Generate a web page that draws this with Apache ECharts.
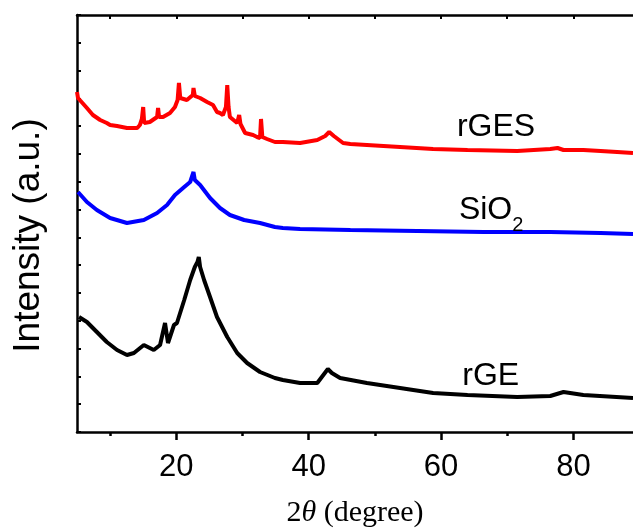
<!DOCTYPE html>
<html>
<head>
<meta charset="utf-8">
<script src="https://cdn.jsdelivr.net/npm/echarts@6/dist/echarts.min.js"></script>
<style>
  html, body { margin: 0; padding: 0; background: #fff; }
  #chart { width: 633px; height: 529px; }
</style>
</head>
<body>
<div id="chart"></div>
<script>
// XRD patterns (x = 2theta, y = offset intensity)
const rgesX = [5.0, 5.15, 5.45, 6.5, 7.4, 8.5, 9.5, 10.0, 11.05, 12.55, 14.1, 14.5, 14.8, 15.0, 15.15, 16.0, 17.1, 17.25, 17.4, 18.0, 19.05, 19.8, 20.2, 20.4, 20.6, 20.9, 21.6, 22.5, 22.6, 22.8, 23.1, 23.6, 24.65, 25.55, 26.15, 26.6, 27.05, 27.5, 27.7, 27.9, 28.1, 29.2, 29.5, 29.7, 30.4, 31.6, 32.2, 32.65, 32.8, 33.0, 33.7, 34.9, 36.1, 38.7, 41.3, 42.5, 43.1, 43.8, 45.2, 46.3, 48.8, 53.8, 58.8, 64.0, 71.5, 76.5, 77.6, 78.5, 81.5, 84.1, 86.6, 89.0]
const rgesY = [340, 334, 332, 324, 317, 312, 309, 307, 306, 304, 304, 307, 313, 325, 309, 310, 315, 324, 315, 315, 319, 325, 332, 349, 334, 332, 332, 337, 344, 336, 335, 334, 330, 327, 320, 319, 317, 325, 347, 325, 315, 309, 317, 308, 299, 297, 295, 294, 313, 295, 293, 290, 290, 289, 292, 296, 300, 296, 289, 288, 287, 285, 283, 282, 281, 283, 284, 282, 282, 281, 280, 279]

const sio2X = [5.15, 6.5, 8.0, 10.0, 12.55, 15.1, 17.1, 18.6, 19.8, 21.2, 22.1, 22.4, 22.6, 22.8, 23.6, 25.1, 26.6, 28.1, 30.25, 32.65, 34.9, 36.1, 38.7, 46.3, 56.4, 66.4, 76.5, 84.1, 89.0]
const sio2Y = [240, 230, 222, 214, 209, 212, 219, 227, 237, 245, 250, 252, 260, 252, 247, 234, 224, 217, 212, 209, 205, 204, 203, 202, 201, 200, 200, 199, 198]

const rgeX = [5.3, 6.5, 8.0, 9.5, 11.05, 12.55, 13.6, 15.1, 16.6, 17.55, 18.3, 18.75, 19.65, 20.1, 21.2, 22.1, 22.8, 23.2, 23.4, 23.6, 24.2, 25.1, 26.15, 27.7, 29.2, 30.7, 32.65, 34.9, 36.1, 38.7, 41.3, 42.9, 43.5, 44.75, 48.8, 53.8, 58.8, 64.0, 71.5, 76.5, 78.5, 81.5, 89.0]
const rgeY = [115, 110, 100, 90, 82, 77, 79, 87, 82, 87, 109, 89, 107, 109, 132, 152, 165, 170, 175, 165, 152, 135, 115, 95, 79, 69, 60, 54, 52, 49, 49, 63, 59, 54, 49, 44, 39, 37, 35, 36, 40, 37, 34]

const majorTicks = [20, 40, 60, 80]
const minorTicks = [10, 30, 50, 70]
const topTicks = [10, 20, 30, 40, 50, 60, 70, 80]

const zip = (xs, ys) => xs.map((x, i) => [x, ys[i]])

const chart = echarts.init(document.getElementById('chart'))

const sans = 'Liberation Sans, Arial, sans-serif'
const serif = 'Liberation Serif, Times New Roman, serif'

function tag (text, x, y, rich) {
  return {
    symbolSize: 0,
    silent: true,
    animation: false,
    data: [{ coord: [x, y] }],
    label: {
      show: true,
      position: 'right',
      distance: 0,
      formatter: text,
      color: '#000',
      fontFamily: sans,
      fontSize: 32,
      rich: rich
    }
  }
}

const option = {
  animation: false,
  grid: { left: 77, right: 0, top: 15, bottom: 97, outerBoundsMode: 'none', containLabel: false },
  xAxis: [
    {
      type: 'value',
      min: 5,
      max: 89,
      position: 'bottom',
      axisLine: { onZero: false, lineStyle: { color: '#000', width: 2.5 } },
      axisTick: { customValues: majorTicks, length: 8, lineStyle: { color: '#000', width: 2.5 } },
      axisLabel: { customValues: majorTicks, color: '#000', fontFamily: sans, fontSize: 31, margin: 20 },
      splitLine: { show: false },
      name: '2{i|θ} (degree)',
      nameLocation: 'middle',
      nameGap: 66,
      nameTextStyle: {
        color: '#000',
        fontFamily: serif,
        fontSize: 30,
        rich: { i: { fontStyle: 'italic', fontFamily: serif, fontSize: 30, color: '#000' } }
      }
    },
    {
      type: 'value',
      min: 5,
      max: 89,
      position: 'bottom',
      axisLine: { show: false, onZero: false },
      axisTick: { customValues: minorTicks, length: 4, lineStyle: { color: '#000', width: 2.5 } },
      axisLabel: { show: false },
      splitLine: { show: false }
    },
    {
      type: 'value',
      min: 5,
      max: 89,
      position: 'top',
      axisLine: { onZero: false, lineStyle: { color: '#000', width: 2.5 } },
      axisTick: { customValues: topTicks, inside: true, length: 4, lineStyle: { color: '#000', width: 2 } },
      axisLabel: { show: false },
      splitLine: { show: false }
    }
  ],
  yAxis: {
    type: 'value',
    min: 0,
    max: 417,
    interval: 27.8,
    axisLine: { show: true, onZero: false, lineStyle: { color: '#000', width: 2.5 } },
    axisTick: { show: true, inside: true, length: 4, lineStyle: { color: '#000', width: 2 } },
    axisLabel: { show: false },
    splitLine: { show: false },
    name: 'Intensity (a.u.)',
    nameLocation: 'middle',
    nameGap: 30,
    nameTextStyle: { color: '#000', fontFamily: sans, fontSize: 37, padding: [0, 24, 0, 0] }
  },
  series: [
    {
      name: 'rGES',
      type: 'line',
      data: zip(rgesX, rgesY),
      showSymbol: false,
      lineStyle: { color: '#ff0000', width: 4 },
      itemStyle: { color: '#ff0000' },
      markPoint: tag('rGES', 62.4, 305)
    },
    {
      name: 'SiO2',
      type: 'line',
      data: zip(sio2X, sio2Y),
      showSymbol: false,
      lineStyle: { color: '#0000ff', width: 4 },
      itemStyle: { color: '#0000ff' },
      markPoint: tag('{m|SiO}{s|2}', 62.7, 222, {
        m: { fontFamily: sans, fontSize: 32, color: '#000', lineHeight: 36, verticalAlign: 'middle' },
        s: { fontFamily: sans, fontSize: 20, color: '#000', lineHeight: 50, verticalAlign: 'bottom' }
      })
    },
    {
      name: 'rGE',
      type: 'line',
      data: zip(rgeX, rgeY),
      showSymbol: false,
      lineStyle: { color: '#000000', width: 4 },
      itemStyle: { color: '#000000' },
      markPoint: tag('rGE', 63.2, 56)
    }
  ]
}

chart.setOption(option)
</script>
</body>
</html>
